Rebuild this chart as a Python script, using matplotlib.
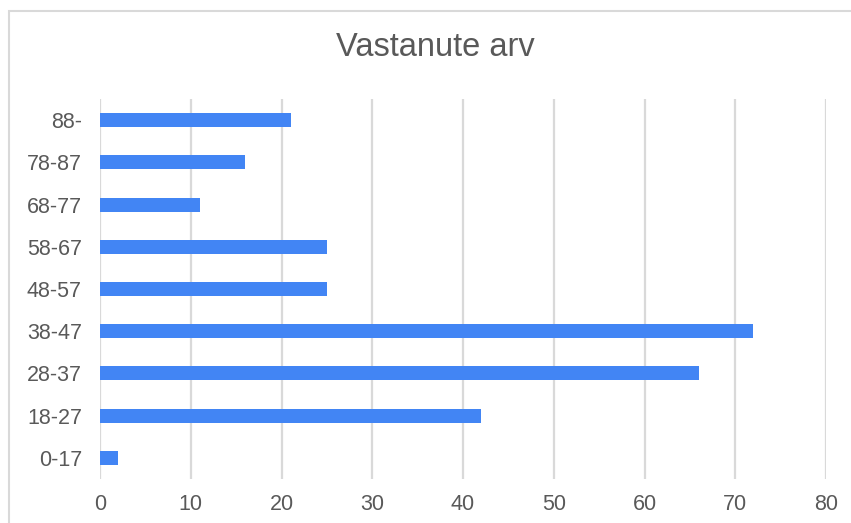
import matplotlib
matplotlib.use("Agg")
import matplotlib.pyplot as plt
from matplotlib.patches import Rectangle

# age groups and number of respondents
groups = ["0-17", "18-27", "28-37", "38-47", "48-57", "58-67", "68-77", "78-87", "88-"]
counts = [2, 42, 66, 72, 25, 25, 11, 16, 21]
xticks = [0, 10, 20, 30, 40, 50, 60, 70, 80]

plt.rcParams["font.family"] = ["Liberation Sans", "DejaVu Sans"]
text_col = "#595959"
grid_col = "#d9d9d9"

fig = plt.figure(figsize=(8.51, 5.23), dpi=100)
ax = fig.add_axes([100 / 851, 44 / 523, 726 / 851, 380 / 523])

ax.barh(range(len(groups)), counts, height=0.33, color="#4285f4", zorder=3)

ax.set_xlim(0, 80)
ax.set_ylim(-0.5, len(groups) - 0.5)
ax.set_xticks(xticks)
ax.set_yticks(range(len(groups)))
ax.set_yticklabels(groups)
ax.grid(axis="x", color=grid_col, linewidth=1.6, zorder=0)
ax.tick_params(length=0, labelsize=15.5, colors=text_col)
ax.tick_params(axis="x", pad=11)
ax.tick_params(axis="y", pad=13)
for s in ax.spines.values():
    s.set_visible(False)

fig.text(435 / 851, 1 - 48 / 523, "Vastanute arv", ha="center", va="center",
         fontsize=23.5, color=text_col)

# outer chart border (cropped on right and bottom)
fig.patches.append(Rectangle((9 / 851, -0.1), 1.2, 1.1 - 11 / 523,
                             transform=fig.transFigure, fill=False,
                             edgecolor=grid_col, linewidth=1.5))

fig.savefig("out.png", dpi=100)
